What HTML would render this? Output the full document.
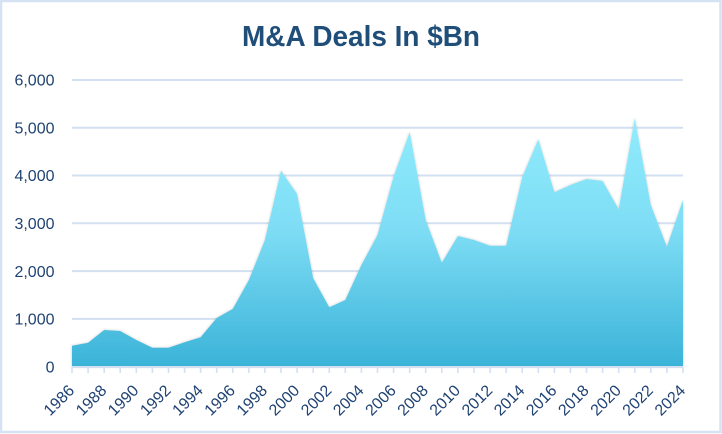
<!DOCTYPE html>
<html>
<head>
<meta charset="utf-8">
<style>
  html,body{margin:0;padding:0;background:#fff;}
  svg{display:block;}
  text{font-family:"Liberation Sans", Arial, sans-serif;}
</style>
</head>
<body>
<svg width="722" height="434" viewBox="0 0 722 434" xmlns="http://www.w3.org/2000/svg">
  <defs>
    <linearGradient id="g" x1="0" y1="118" x2="0" y2="367" gradientUnits="userSpaceOnUse">
      <stop offset="0" stop-color="#90ECFD"/>
      <stop offset="0.45" stop-color="#7EDDF5"/>
      <stop offset="1" stop-color="#3AB3D8"/>
    </linearGradient>
    <filter id="sh" x="-5%" y="-5%" width="110%" height="110%">
      <feDropShadow dx="0" dy="0" stdDeviation="1.3" flood-color="#000" flood-opacity="0.22"/>
    </filter>
  </defs>
  <rect x="0" y="0" width="722" height="434" fill="#fff"/>
  <rect x="1" y="1" width="719.5" height="431" fill="none" stroke="#D5E2F3" stroke-width="2.5"/>

  <text x="361" y="46" text-anchor="middle" font-size="29" font-weight="bold" fill="#1F4E79" textLength="238" lengthAdjust="spacingAndGlyphs">M&amp;A Deals In $Bn</text>

  <!-- gridlines -->
  <g stroke="#D3E0F1" stroke-width="2">
    <line x1="72" y1="80" x2="683" y2="80"/>
    <line x1="72" y1="127.8" x2="683" y2="127.8"/>
    <line x1="72" y1="175.5" x2="683" y2="175.5"/>
    <line x1="72" y1="223.3" x2="683" y2="223.3"/>
    <line x1="72" y1="271.1" x2="683" y2="271.1"/>
    <line x1="72" y1="318.9" x2="683" y2="318.9"/>
  </g>

  <!-- y labels -->
  <g font-size="16" fill="#1F4272" text-anchor="end">
    <text x="54.5" y="85.7">6,000</text>
    <text x="54.5" y="133.5">5,000</text>
    <text x="54.5" y="181.2">4,000</text>
    <text x="54.5" y="229">3,000</text>
    <text x="54.5" y="276.8">2,000</text>
    <text x="54.5" y="324.6">1,000</text>
    <text x="54.5" y="372.4">0</text>
  </g>

  <!-- area -->
  <path filter="url(#sh)" fill="url(#g)" d="M72,366.7 L72.0,345.7 L88.1,342.7 L104.2,330.0 L120.2,331.0 L136.3,340.0 L152.4,347.7 L168.5,347.7 L184.6,342.3 L200.6,337.3 L216.7,318.0 L232.8,308.9 L248.9,280.0 L264.9,240.0 L281.0,170.7 L297.1,194.0 L313.2,278.3 L329.3,307.3 L345.3,300.0 L361.4,265.0 L377.5,235.0 L393.6,176.5 L409.7,132.1 L425.7,220.0 L441.8,262.7 L457.9,236.0 L474.0,240.0 L490.1,245.7 L506.1,245.7 L522.2,177.3 L538.3,139.3 L554.4,192.3 L570.4,185.0 L586.5,179.0 L602.6,181.0 L618.7,209.3 L634.8,118.3 L650.8,205.0 L666.9,246.7 L683.0,200.0 L683,366.7 Z"/>

  <!-- axis -->
  <line x1="72" y1="367" x2="683" y2="367" stroke="#D3E0F1" stroke-width="2"/>
  <g stroke="#D3E0F1" stroke-width="1.6">
    <line x1="72.0" y1="367" x2="72.0" y2="373"/><line x1="88.1" y1="367" x2="88.1" y2="373"/><line x1="104.2" y1="367" x2="104.2" y2="373"/><line x1="120.2" y1="367" x2="120.2" y2="373"/><line x1="136.3" y1="367" x2="136.3" y2="373"/><line x1="152.4" y1="367" x2="152.4" y2="373"/><line x1="168.5" y1="367" x2="168.5" y2="373"/><line x1="184.6" y1="367" x2="184.6" y2="373"/><line x1="200.6" y1="367" x2="200.6" y2="373"/><line x1="216.7" y1="367" x2="216.7" y2="373"/><line x1="232.8" y1="367" x2="232.8" y2="373"/><line x1="248.9" y1="367" x2="248.9" y2="373"/><line x1="264.9" y1="367" x2="264.9" y2="373"/><line x1="281.0" y1="367" x2="281.0" y2="373"/><line x1="297.1" y1="367" x2="297.1" y2="373"/><line x1="313.2" y1="367" x2="313.2" y2="373"/><line x1="329.3" y1="367" x2="329.3" y2="373"/><line x1="345.3" y1="367" x2="345.3" y2="373"/><line x1="361.4" y1="367" x2="361.4" y2="373"/><line x1="377.5" y1="367" x2="377.5" y2="373"/><line x1="393.6" y1="367" x2="393.6" y2="373"/><line x1="409.7" y1="367" x2="409.7" y2="373"/><line x1="425.7" y1="367" x2="425.7" y2="373"/><line x1="441.8" y1="367" x2="441.8" y2="373"/><line x1="457.9" y1="367" x2="457.9" y2="373"/><line x1="474.0" y1="367" x2="474.0" y2="373"/><line x1="490.1" y1="367" x2="490.1" y2="373"/><line x1="506.1" y1="367" x2="506.1" y2="373"/><line x1="522.2" y1="367" x2="522.2" y2="373"/><line x1="538.3" y1="367" x2="538.3" y2="373"/><line x1="554.4" y1="367" x2="554.4" y2="373"/><line x1="570.4" y1="367" x2="570.4" y2="373"/><line x1="586.5" y1="367" x2="586.5" y2="373"/><line x1="602.6" y1="367" x2="602.6" y2="373"/><line x1="618.7" y1="367" x2="618.7" y2="373"/><line x1="634.8" y1="367" x2="634.8" y2="373"/><line x1="650.8" y1="367" x2="650.8" y2="373"/><line x1="666.9" y1="367" x2="666.9" y2="373"/><line x1="683.0" y1="367" x2="683.0" y2="373"/>
  </g>

  <!-- x labels -->
  <g font-size="16" fill="#1F4272" text-anchor="end">
    <text transform="translate(75.3,391.5) rotate(-45)">1986</text>
    <text transform="translate(107.5,391.5) rotate(-45)">1988</text>
    <text transform="translate(139.6,391.5) rotate(-45)">1990</text>
    <text transform="translate(171.8,391.5) rotate(-45)">1992</text>
    <text transform="translate(203.9,391.5) rotate(-45)">1994</text>
    <text transform="translate(236.1,391.5) rotate(-45)">1996</text>
    <text transform="translate(268.2,391.5) rotate(-45)">1998</text>
    <text transform="translate(300.4,391.5) rotate(-45)">2000</text>
    <text transform="translate(332.6,391.5) rotate(-45)">2002</text>
    <text transform="translate(364.7,391.5) rotate(-45)">2004</text>
    <text transform="translate(396.9,391.5) rotate(-45)">2006</text>
    <text transform="translate(429.0,391.5) rotate(-45)">2008</text>
    <text transform="translate(461.2,391.5) rotate(-45)">2010</text>
    <text transform="translate(493.4,391.5) rotate(-45)">2012</text>
    <text transform="translate(525.5,391.5) rotate(-45)">2014</text>
    <text transform="translate(557.7,391.5) rotate(-45)">2016</text>
    <text transform="translate(589.8,391.5) rotate(-45)">2018</text>
    <text transform="translate(622.0,391.5) rotate(-45)">2020</text>
    <text transform="translate(654.1,391.5) rotate(-45)">2022</text>
    <text transform="translate(686.3,391.5) rotate(-45)">2024</text>
  </g>
</svg>
</body>
</html>
